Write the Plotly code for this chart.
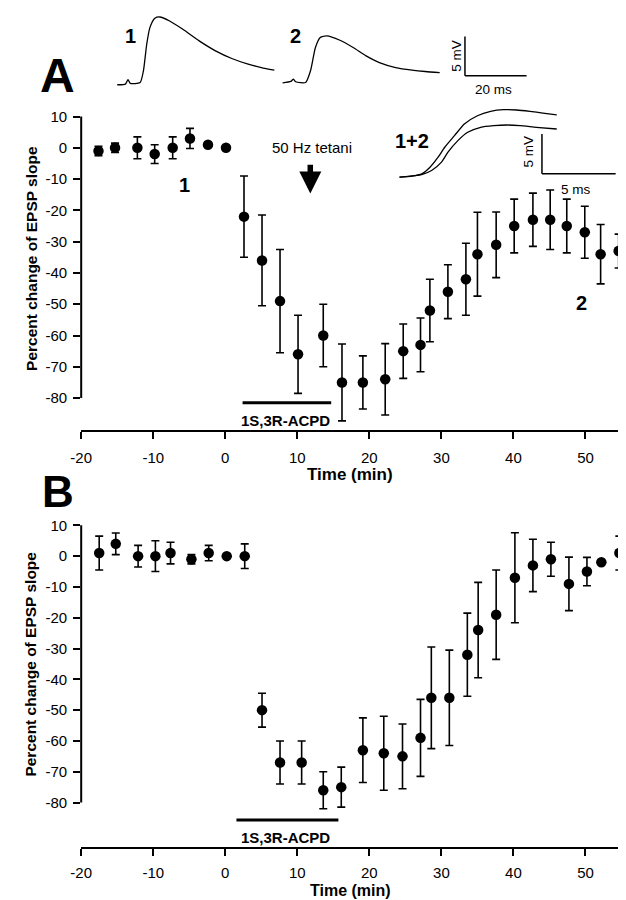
import plotly.graph_objects as go

W, H = 626, 900
FONT = "Liberation Sans, Arial, Helvetica, sans-serif"

# ---------------- data: panel A ----------------
a_time = [-17.6, -15.3, -12.2, -9.8, -7.3, -4.9, -2.4, 0.1, 2.6, 5.1, 7.6, 10.1, 13.6, 16.2,
          19.1, 22.2, 24.7, 27.1, 28.4, 30.9, 33.4, 35.0, 37.6, 40.1, 42.7, 45.1, 47.4, 49.9,
          52.1, 54.6]
a_pct = [-1, 0, 0, -2, 0, 3, 1, 0, -22, -36, -49, -66, -60, -75,
         -75, -74, -65, -63, -52, -46, -42, -34, -31, -25, -23, -23, -25, -27,
         -34, -33]
a_err = [1.5, 1.5, 3.5, 3, 3.5, 3.2, 0, 0, 13, 14.5, 16.5, 12.5, 10, 12.3,
         8.5, 11.4, 8.7, 8.6, 10, 8.6, 11.5, 13.4, 10.5, 8.6, 8.5, 9.5, 8.6, 8.3,
         9.5, 5.4]

# ---------------- data: panel B ----------------
b_time = [-17.5, -15.2, -12.1, -9.7, -7.6, -4.7, -2.3, 0.2, 2.7, 5.1, 7.6, 10.6, 13.6, 16.1,
          19.1, 22.0, 24.6, 27.1, 28.6, 31.1, 33.6, 35.1, 37.6, 40.2, 42.7, 45.2, 47.7, 50.2,
          52.2, 54.7]
b_pct = [1, 4, 0, 0, 1, -1, 1, 0, 0, -50, -67, -67, -76, -75,
         -63, -64, -65, -59, -46, -46, -32, -24, -19, -7, -3, -1, -9, -5,
         -2, 1]
b_err = [5.5, 3.5, 3.5, 5, 3.5, 1.5, 2.5, 0, 4, 5.5, 7, 7, 6, 6.5,
         10.5, 12, 10.5, 12.5, 16.5, 15.5, 13.5, 15.5, 14.5, 14.6, 8.5, 5.5, 8.7, 4.6,
         0, 5.5]

x_ticks = [-20, -10, 0, 10, 20, 30, 40, 50]
x_ticktext = ["-20", "-10", "0", "10", "20", "30", "40", "50"]
y_ticks = [10, 0, -10, -20, -30, -40, -50, -60, -70, -80]
y_ticktext = ["10", "0", "-10", "-20", "-30", "-40", "-50", "-60", "-70", "-80"]

acpd_a = [2.4, 14.7]      # drug application (min), panel A
acpd_b = [1.55, 15.7]     # drug application (min), panel B
tetanus_time = 11.8

# ---------------- inset EPSP traces (ms, mV) ----------------
epsp1_ms = [0, 2.66, 3.5, 4.25, 7.44, 8.5, 9.57, 10.6, 12.2, 13.8, 17.0, 21.3, 26.6, 31.9,
            37.2, 42.5, 46.8, 51.0]
epsp1_mv = [0, 0.08, 0.64, 0.17, 0.3, 1.78, 5.17, 7.29, 8.48, 8.65, 8.14, 7.08, 5.6, 4.33,
            3.35, 2.63, 2.2, 1.87]
epsp2_ms = [0, 2.66, 3.5, 4.25, 7.46, 9.05, 10.65, 12.2, 14.35, 18.6, 22.9, 27.1, 31.4,
            36.7, 42.0, 46.3, 51.0]
epsp2_mv = [0, 0.17, 0.47, 0.13, 0.04, 1.53, 4.5, 5.77, 5.98, 5.43, 4.5, 3.44, 2.58,
            1.95, 1.62, 1.44, 1.31]

sup1_ms = [0, 0.85, 1.51, 2.07, 2.62, 3.07, 3.73, 4.4, 5.29, 6.18, 7.07, 7.96, 8.85, 9.73, 10.67]
sup1_mv = [0, 0.13, 0.42, 1.25, 2.5, 3.75, 5.2, 6.67, 7.7, 8.25, 8.46, 8.42, 8.25, 8.04, 7.8]
sup2_ms = [0, 1.51, 2.18, 2.85, 3.29, 3.96, 4.63, 5.51, 6.4, 7.29, 8.18, 9.29, 10.67]
sup2_mv = [0, 0.33, 0.83, 1.88, 3.13, 4.58, 5.63, 6.25, 6.46, 6.54, 6.46, 6.25, 6.04]


def px(x):
    return x / W


def py(y):
    return 1 - y / H


fig = go.Figure()

err_style = dict(type="data", symmetric=True, color="black", thickness=1.6, width=4)
mk = dict(color="black", size=10.5, symbol="circle")

fig.add_trace(go.Scatter(x=a_time, y=a_pct, mode="markers", marker=mk,
                         error_y=dict(array=a_err, **err_style), xaxis="x", yaxis="y",
                         showlegend=False, hoverinfo="skip"))
fig.add_trace(go.Scatter(x=b_time, y=b_pct, mode="markers", marker=mk,
                         error_y=dict(array=b_err, **err_style), xaxis="x2", yaxis="y2",
                         showlegend=False, hoverinfo="skip"))

# inset 1 (traces 1 and 2, side by side)
TR2_SHIFT_MS = 53.7
TR2_SHIFT_MV = 0.25
line_k = dict(color="black", width=1.3, shape="spline", smoothing=0.6)
fig.add_trace(go.Scatter(x=epsp1_ms, y=epsp1_mv, mode="lines", line=line_k,
                         xaxis="x3", yaxis="y3", showlegend=False, hoverinfo="skip"))
fig.add_trace(go.Scatter(x=[t + TR2_SHIFT_MS for t in epsp2_ms],
                         y=[v + TR2_SHIFT_MV for v in epsp2_mv], mode="lines", line=line_k,
                         xaxis="x3", yaxis="y3", showlegend=False, hoverinfo="skip"))
# inset 2 (superimposed)
fig.add_trace(go.Scatter(x=sup1_ms, y=sup1_mv, mode="lines", line=line_k,
                         xaxis="x4", yaxis="y4", showlegend=False, hoverinfo="skip"))
fig.add_trace(go.Scatter(x=sup2_ms, y=sup2_mv, mode="lines", line=line_k,
                         xaxis="x4", yaxis="y4", showlegend=False, hoverinfo="skip"))

tickfont = dict(family=FONT, size=15, color="black")
xcommon = dict(range=[-20, 55], domain=[px(63.3), px(613.3)], tickvals=x_ticks,
               ticktext=x_ticktext,
               ticks="outside", ticklen=7, tickwidth=2, tickcolor="black",
               showline=True, linewidth=2, linecolor="black", showgrid=False,
               zeroline=False, tickfont=tickfont)
ycommon = dict(tickvals=y_ticks, ticktext=y_ticktext, ticks="outside", ticklen=7, tickwidth=2,
               tickcolor="black", showline=False, showgrid=False, zeroline=False,
               tickfont=tickfont, ticklabelstandoff=3)
hidden = dict(visible=False, showgrid=False, zeroline=False)

# inset axes ranges from pixel geometry
in1_x = [(95 - 100) / 3.135, (525 - 100) / 3.135]
in1_y = [(74 - 85) / 7.86, 74 / 7.86]
in2_x = [(380 - 387.3) / 15, (615 - 387.3) / 15]
in2_y = [(166.7 - 190) / 8, (166.7 - 90) / 8]

fig.update_layout(
    width=W, height=H, margin=dict(l=0, r=0, t=0, b=0),
    paper_bgcolor="white", plot_bgcolor="rgba(0,0,0,0)",
    font=dict(family=FONT, color="black"),
    xaxis=dict(anchor="y", ticklabelstandoff=6, **xcommon),
    yaxis=dict(anchor="x", range=[-90.3, 12], domain=[py(420.7), py(99.6)], **ycommon),
    xaxis2=dict(anchor="y2", ticklabelstandoff=4, **xcommon),
    yaxis2=dict(anchor="x2", range=[-94.5, 12], domain=[py(839), py(509.9)], **ycommon),
    xaxis3=dict(anchor="y3", range=in1_x, domain=[px(95), px(525)], **hidden),
    yaxis3=dict(anchor="x3", range=in1_y, domain=[py(85), py(0)], **hidden),
    xaxis4=dict(anchor="y4", range=in2_x, domain=[px(380), px(615)], **hidden),
    yaxis4=dict(anchor="x4", range=in2_y, domain=[py(190), py(90)], **hidden),
)

shapes = []
# y axis lines spanning only the labelled range
for yr in ("y", "y2"):
    xr = "x domain" if yr == "y" else "x2 domain"
    shapes.append(dict(type="line", xref=xr, yref=yr, x0=0, x1=0, y0=-80, y1=10,
                       line=dict(color="black", width=2)))
# drug bars
shapes.append(dict(type="line", xref="x", yref="y", x0=acpd_a[0], x1=acpd_a[1],
                   y0=-81.5, y1=-81.5, line=dict(color="black", width=3)))
shapes.append(dict(type="line", xref="x2", yref="y2", x0=acpd_b[0], x1=acpd_b[1],
                   y0=-85.7, y1=-85.7, line=dict(color="black", width=3)))
# scale bars inset 1 (5 mV, 20 ms)
sb1_x, sb1_y = 112.9, 1.145
shapes.append(dict(type="line", xref="x3", yref="y3", x0=sb1_x, x1=sb1_x, y0=sb1_y,
                   y1=sb1_y + 5, line=dict(color="black", width=1.5)))
shapes.append(dict(type="line", xref="x3", yref="y3", x0=sb1_x, x1=sb1_x + 20, y0=sb1_y,
                   y1=sb1_y, line=dict(color="black", width=1.5)))
# scale bars inset 2 (5 mV, 5 ms)
sb2_x, sb2_y = 9.667, 0.425
shapes.append(dict(type="line", xref="x4", yref="y4", x0=sb2_x, x1=sb2_x, y0=sb2_y,
                   y1=sb2_y + 5, line=dict(color="black", width=1.5)))
shapes.append(dict(type="line", xref="x4", yref="y4", x0=sb2_x, x1=sb2_x + 5, y0=sb2_y,
                   y1=sb2_y, line=dict(color="black", width=1.5)))
fig.update_layout(shapes=shapes)


def ann(text, x, y, size, bold=False, angle=0, xref="paper", yref="paper"):
    t = f"<b>{text}</b>" if bold else text
    return dict(text=t, x=x, y=y, xref=xref, yref=yref, showarrow=False,
                xanchor="center", yanchor="middle", textangle=angle, borderpad=0,
                font=dict(family=FONT, size=size, color="black"))


annotations = [
    ann("A", px(39), py(64.5), 48, bold=True),
    ann("B", px(40), py(482), 44, bold=True),
    ann("Percent change of EPSP slope", px(12), py(248), 15.5, bold=True, angle=-90),
    ann("Percent change of EPSP slope", px(12), py(655), 15.5, bold=True, angle=-90),
    ann("Time (min)", px(337), py(465), 17, bold=True),
    ann("Time (min)", px(337), py(882), 16, bold=True),
    ann("1S,3R-ACPD", 8.3, -87.2, 15, bold=True, xref="x", yref="y"),
    ann("1S,3R-ACPD", 8.3, -91.2, 15, bold=True, xref="x2", yref="y2"),
    ann("50 Hz tetani", 12.1, 0, 15, xref="x", yref="y"),
    ann("1", px(168.3), py(175), 20, bold=True),
    ann("2", px(572.7), py(293.3), 20, bold=True),
    ann("1", px(113.3), py(25), 20, bold=True),
    ann("2", px(281.7), py(25), 20, bold=True),
    ann("1+2", px(400), py(130), 20, bold=True),
    ann("5 mV", px(445.8), py(45), 13.5, angle=-90),
    ann("20 ms", px(483.3), py(79), 13.5),
    ann("5 mV", px(518.3), py(140.8), 13.5, angle=-90),
    ann("5 ms", px(566.7), py(179.3), 13.5),
    dict(x=tetanus_time, y=-14.6, ax=tetanus_time, ay=-4.9, xref="x", yref="y",
         axref="x", ayref="y", text="", showarrow=True, arrowhead=2, arrowsize=0.8,
         arrowwidth=5.5, arrowcolor="black", standoff=0, startstandoff=0),
]
fig.update_layout(annotations=annotations)

fig.write_html("out.html")
